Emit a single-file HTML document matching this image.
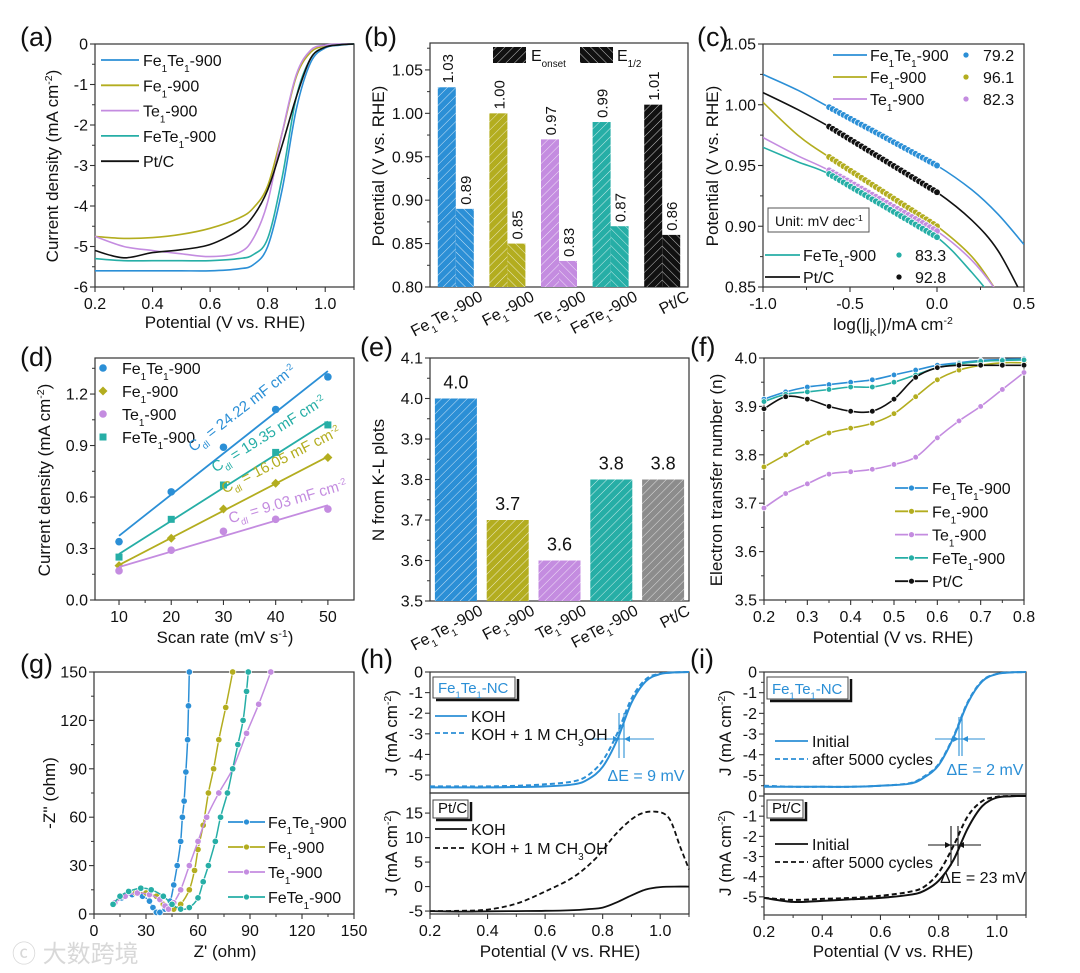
<!DOCTYPE html>
<html><head><meta charset="utf-8"><style>
html,body{margin:0;padding:0;background:#fff}
svg{display:block;font-family:"Liberation Sans","Noto Sans CJK SC",sans-serif}
</style></head><body>
<svg id="fig" width="1080" height="973" viewBox="0 0 1080 973" xmlns="http://www.w3.org/2000/svg">
<defs>
</defs>
</svg>
<script>
// ---------- DATA ----------
// (a) LSV
const aX = [0.2,0.3,0.4,0.5,0.6,0.7,0.75,0.8,0.85,0.9,0.95,1.0,1.05,1.1];
const aFe1Te1 = [-5.6,-5.6,-5.6,-5.6,-5.6,-5.55,-5.45,-5.0,-3.6,-1.6,-0.45,-0.1,-0.03,0];
const aFeTe1 = [-5.3,-5.35,-5.35,-5.35,-5.35,-5.3,-5.2,-4.8,-3.3,-1.3,-0.35,-0.08,-0.02,0];
const aFe1 = [-4.75,-4.8,-4.78,-4.7,-4.55,-4.3,-4.05,-3.5,-2.2,-0.8,-0.2,-0.05,-0.01,0];
const aTe1 = [-4.75,-5.0,-5.1,-5.18,-5.25,-5.15,-4.8,-3.9,-2.2,-0.75,-0.15,-0.03,0,0];
const aPtC = [-5.1,-5.28,-5.15,-5.08,-4.95,-4.6,-4.25,-3.6,-2.5,-1.3,-0.35,-0.08,-0.02,0];
// (b) onset / half-wave
const bCats = ["Fe{1}Te{1}-900","Fe{1}-900","Te{1}-900","FeTe{1}-900","Pt/C"];
const bOnset = [1.03,1.00,0.97,0.99,1.01];
const bHalf = [0.89,0.85,0.83,0.87,0.86];
const bOnsetLbl = ["1.03","1.00","0.97","0.99","1.01"];
const bHalfLbl = ["0.89","0.85","0.83","0.87","0.86"];
// (c) Tafel
const cLineX = [-1.0,-0.8,-0.62,-0.3,0.0,0.2,0.35,0.5];
const cFe1Te1 = [1.025,1.012,0.998,0.974,0.95,0.93,0.91,0.885];
const cPtC = [1.01,0.996,0.982,0.955,0.928,0.905,0.88,0.84];
const cFe1 = [1.002,0.975,0.957,0.929,0.9,0.875,0.845,0.81];
const cTe1 = [0.973,0.958,0.946,0.921,0.896,0.872,0.845,0.81];
const cFeTe1 = [0.965,0.953,0.943,0.917,0.891,0.862,0.835,0.80];
const cFitStart = [-0.62,-0.62,-0.62,-0.62,-0.62];
const cSlopes = ["79.2","96.1","82.3","83.3","92.8"];
// (d) Cdl
const dX = [10,20,30,40,50];
const dFe1Te1 = [0.34,0.63,0.89,1.11,1.30];
const dFeTe1 = [0.25,0.47,0.67,0.86,1.02];
const dFe1 = [0.20,0.36,0.53,0.68,0.83];
const dTe1 = [0.17,0.29,0.40,0.47,0.53];
const dCdl = ["24.22","19.35","16.05","9.03"];
// (e) N
const eVals = [4.0,3.7,3.6,3.8,3.8];
const eLbl = ["4.0","3.7","3.6","3.8","3.8"];
// (f) n
const fX = [0.2,0.25,0.3,0.35,0.4,0.45,0.5,0.55,0.6,0.65,0.7,0.75,0.8];
const fFe1Te1 = [3.915,3.93,3.94,3.945,3.95,3.955,3.965,3.975,3.985,3.99,3.995,3.997,3.998];
const fFeTe1 = [3.91,3.925,3.93,3.935,3.94,3.94,3.95,3.965,3.98,3.988,3.993,3.995,3.996];
const fPtC = [3.895,3.92,3.915,3.9,3.89,3.89,3.915,3.96,3.98,3.985,3.985,3.985,3.985];
const fFe1 = [3.775,3.80,3.825,3.845,3.855,3.865,3.885,3.92,3.955,3.975,3.985,3.99,3.99];
const fTe1 = [3.69,3.72,3.74,3.76,3.765,3.77,3.78,3.795,3.835,3.87,3.9,3.935,3.97];
// (g) Nyquist [Z', Z'']
const gFe1Te1 = [[12,7],[16,10],[22,12],[28,11],[32,8],[34,4],[36,1],[38,1],[41,3],[44,8],[46,18],[48,30],[50,45],[51,60],[52,70],[53,88],[54,108],[54.5,129],[55,150]];
const gFe1 = [[12,7],[17,11],[24,13],[30,13],[36,11],[40,6],[43,3],[46,3],[50,6],[55,15],[58,27],[60,40],[63,55],[66,75],[69,90],[72,108],[76,128],[80,150]];
const gTe1 = [[12,7],[18,11],[25,13],[32,12],[38,9],[41,5],[43,3],[46,7],[50,15],[55,30],[60,45],[65,60],[72,75],[80,90],[88,112],[95,130],[102,150]];
const gFeTe1 = [[11,6],[15,11],[20,14],[27,16],[33,15],[40,11],[45,6],[50,3],[55,4],[60,10],[63,20],[66,30],[70,45],[73,60],[77,75],[80,90],[83,105],[86,120],[88,138],[89,150]];
// (h) methanol tolerance
const hX = [0.2,0.3,0.4,0.5,0.6,0.7,0.75,0.8,0.85,0.9,0.95,1.0,1.05,1.1];
const hKOH = [-5.6,-5.6,-5.6,-5.58,-5.55,-5.45,-5.2,-4.6,-3.3,-1.5,-0.45,-0.1,-0.02,0];
const hMeOH = [-5.55,-5.55,-5.55,-5.52,-5.45,-5.3,-5.0,-4.3,-3.0,-1.3,-0.35,-0.08,-0.02,0];
const hPtKOH = [-5.0,-5.1,-5.05,-5.0,-4.95,-4.8,-4.6,-4.3,-3.2,-1.8,-0.6,-0.1,0,0];
const hX2 = [0.2,0.3,0.4,0.5,0.6,0.7,0.78,0.85,0.92,0.98,1.03,1.07,1.1];
const hPtMeOH = [-5.0,-4.95,-4.7,-3.5,-1.0,2.0,6.0,11.0,14.5,15.3,14.0,8.0,3.5];
// (i) stability
const iInit = [-5.55,-5.55,-5.55,-5.55,-5.5,-5.4,-5.1,-4.5,-3.2,-1.5,-0.45,-0.1,-0.02,0];
const iAfter = [-5.5,-5.55,-5.55,-5.55,-5.5,-5.38,-5.05,-4.45,-3.15,-1.45,-0.42,-0.09,-0.02,0];
const iPtInit = [-5.05,-5.25,-5.2,-5.12,-5.05,-4.9,-4.7,-4.2,-3.2,-1.6,-0.5,-0.08,-0.01,0];
const iPtAfter = [-5.05,-5.15,-5.1,-5.05,-4.95,-4.75,-4.5,-3.8,-2.5,-1.0,-0.25,-0.04,0,0];
</script>
<script>
const NS = "http://www.w3.org/2000/svg";
const svg = document.getElementById('fig');
const C = {blue:"#2b8fd6", olive:"#b3ad1f", purple:"#c48ce0", teal:"#26aea6", black:"#111", grey:"#8c8c8c"};
function mk(tag, attrs, parent){
  const e = document.createElementNS(NS, tag);
  for (const k in attrs) e.setAttribute(k, attrs[k]);
  (parent||svg).appendChild(e);
  return e;
}
function rich(s){
  return s.replace(/\{([^}]*)\}/g,'<tspan font-size="0.62em" baseline-shift="sub">$1</tspan>')
          .replace(/\[([^\]]*)\]/g,'<tspan font-size="0.62em" baseline-shift="super">$1</tspan>');
}
function txt(x,y,s,size,name,opts){
  opts = opts||{};
  const t = mk('text',{x:x,y:y,'font-size':size,fill:opts.fill||'#111','text-anchor':opts.anchor||'start'});
  if (opts.rot!==undefined) t.setAttribute('transform','rotate('+opts.rot+' '+x+' '+y+')');
  t.innerHTML = rich(s);
  
  
  return t;
}
function lin(d0,d1,r0,r1){ return v => r0 + (v-d0)/(d1-d0)*(r1-r0); }
function smooth(pts){
  let d = 'M'+pts[0][0].toFixed(1)+','+pts[0][1].toFixed(1);
  for (let i=0;i<pts.length-1;i++){
    const p0=pts[Math.max(i-1,0)], p1=pts[i], p2=pts[i+1], p3=pts[Math.min(i+2,pts.length-1)];
    const c1=[p1[0]+(p2[0]-p0[0])/6, p1[1]+(p2[1]-p0[1])/6];
    const c2=[p2[0]-(p3[0]-p1[0])/6, p2[1]-(p3[1]-p1[1])/6];
    d += 'C'+c1[0].toFixed(1)+','+c1[1].toFixed(1)+' '+c2[0].toFixed(1)+','+c2[1].toFixed(1)+' '+p2[0].toFixed(1)+','+p2[1].toFixed(1);
  }
  return d;
}
function curve(g, sx, sy, xs, ys, color, name, dash, w){
  const pts = xs.map((x,i)=>[sx(x), sy(ys[i])]);
  const p = mk('path',{d:smooth(pts),fill:'none',stroke:color,'stroke-width':w||1.6,'stroke-dasharray':dash||'none'},g);
  
  
  return p;
}
function axes(cfg){
  const g = mk('g',{});
  
  
  const sx = lin(cfg.xd[0],cfg.xd[1],cfg.px[0],cfg.px[1]);
  const sy = lin(cfg.yd[0],cfg.yd[1],cfg.py[1],cfg.py[0]);
  const fr = mk('rect',{x:cfg.px[0],y:cfg.py[0],width:cfg.px[1]-cfg.px[0],height:cfg.py[1]-cfg.py[0],fill:'none',stroke:'#333','stroke-width':1.2},g);
  
  
  if (cfg.xt){
    cfg.xt.forEach((v,i)=>{
      const x=sx(v);
      const tk = mk('line',{x1:x,x2:x,y1:cfg.py[1],y2:cfg.py[1]+5,stroke:'#333','stroke-width':1.1},g);
      
      
      if (cfg.xl) txt(x, cfg.py[1]+22, cfg.xl[i], 16, 'x-tick-label', {anchor:'middle'});
    });
    if (cfg.xm) cfg.xm.forEach(v=>{ const x=sx(v);
      const tm = mk('line',{x1:x,x2:x,y1:cfg.py[1],y2:cfg.py[1]+3,stroke:'#333','stroke-width':1},g);
      
      
    });
  }
  cfg.yt.forEach((v,i)=>{
    const y=sy(v);
    const tk = mk('line',{x1:cfg.px[0]-5,x2:cfg.px[0],y1:y,y2:y,stroke:'#333','stroke-width':1.1},g);
    
    
    txt(cfg.px[0]-7, y+5.5, cfg.yl[i], 16, 'y-tick-label', {anchor:'end'});
  });
  if (cfg.ym) cfg.ym.forEach(v=>{ const y=sy(v);
    const tm = mk('line',{x1:cfg.px[0]-3,x2:cfg.px[0],y1:y,y2:y,stroke:'#333','stroke-width':1},g);
    
    
  });
  return {g,sx,sy};
}
function legLine(g,x1,x2,y,color,name,dash,marker){
  const l = mk('line',{x1:x1,x2:x2,y1:y,y2:y,stroke:color,'stroke-width':1.8,'stroke-dasharray':dash||'none'},g);
  
  
  if (marker){
    const m = mk('circle',{cx:(x1+x2)/2,cy:y,r:3,fill:color,stroke:'#fff','stroke-width':0.8},g);
    
    
  }
}
function dot(g,x,y,color,name,r){
  const m = mk('circle',{cx:x,cy:y,r:r||3.2,fill:color,stroke:'#fff','stroke-width':0.7},g);
  
  
  return m;
}

const defs = svg.querySelector('defs');
function pattern(id,color,dir){
  const p = mk('pattern',{id:id,patternUnits:'userSpaceOnUse',width:6,height:6,patternTransform:'rotate('+(dir>0?45:-45)+')'},defs);
  mk('rect',{x:0,y:0,width:6,height:6,fill:color},p);
  mk('line',{x1:0,y1:0,x2:0,y2:6,stroke:'#fff','stroke-width':1,'stroke-opacity':0.75},p);
}
const barCols = [C.blue,C.olive,C.purple,C.teal,C.black];
barCols.forEach((c,i)=>{ pattern('hA'+i,c,1); pattern('hB'+i,c,-1); });
pattern('hE4',C.grey,1);

[["(a)",20,46],["(b)",364,46],["(c)",697,46],["(d)",20,366],["(e)",360,356],["(f)",690,356],["(g)",20,673],["(h)",360,668],["(i)",690,668]].forEach(p=>txt(p[1],p[2],p[0],27,'panel-label'));

// ---------- (a) ----------
(function(){
  const A = axes({name:'panel-a',px:[95,354],py:[44,287],xd:[0.2,1.1],yd:[-6,0],
    xt:[0.2,0.4,0.6,0.8,1.0],xl:["0.2","0.4","0.6","0.8","1.0"],xm:[0.3,0.5,0.7,0.9,1.1],
    yt:[0,-1,-2,-3,-4,-5,-6],yl:["0","-1","-2","-3","-4","-5","-6"],ym:[-0.5,-1.5,-2.5,-3.5,-4.5,-5.5]});
  const ser=[[aFe1Te1,C.blue,'Fe{1}Te{1}-900'],[aFe1,C.olive,'Fe{1}-900'],[aTe1,C.purple,'Te{1}-900'],[aFeTe1,C.teal,'FeTe{1}-900'],[aPtC,C.black,'Pt/C']];
  ser.forEach((s,i)=>{ curve(A.g,A.sx,A.sy,aX,s[0],s[1],'lsv-curve-'+i);
    legLine(A.g,101,139,60+i*25.3,s[1],'legend-line');
    txt(143,66+i*25.3,s[2],16,'legend-entry'); });
  txt(58,166,'Current density (mA cm[-2])',17,'y-axis-title',{anchor:'middle',rot:-90});
  txt(225,328,'Potential (V vs. RHE)',17,'x-axis-title',{anchor:'middle'});
})();

// ---------- (b) ----------
(function(){
  const B = axes({name:'panel-b',px:[430,688],py:[43,287],xd:[0,5],yd:[0.8,1.081],
    yt:[0.8,0.85,0.9,0.95,1.0,1.05],yl:["0.80","0.85","0.90","0.95","1.00","1.05"],ym:[0.825,0.875,0.925,0.975,1.025,1.075]});
  bCats.forEach((c,i)=>{
    const cx = B.sx(i+0.5);
    const r1 = mk('rect',{x:cx-18,y:B.sy(bOnset[i]),width:18,height:B.sy(0.8)-B.sy(bOnset[i]),fill:'url(#hA'+i+')'},B.g);
    
    
    const r2 = mk('rect',{x:cx,y:B.sy(bHalf[i]),width:18,height:B.sy(0.8)-B.sy(bHalf[i]),fill:'url(#hB'+i+')'},B.g);
    
    
    txt(cx-3,B.sy(bOnset[i])-4,bOnsetLbl[i],15,'bar-value',{rot:-90});
    txt(cx+15,B.sy(bHalf[i])-4,bHalfLbl[i],15,'bar-value',{rot:-90});
    txt(cx+28,300,c,16,'category-label',{anchor:'end',rot:-28});
  });
  const l1 = mk('rect',{x:493,y:47,width:33,height:16,fill:'url(#hA4)'},B.g);
  
  
  txt(531,61,'E{onset}',16,'legend-entry');
  const l2 = mk('rect',{x:580,y:47,width:33,height:16,fill:'url(#hB4)'},B.g);
  
  
  txt(617,61,'E{1/2}',16,'legend-entry');
  txt(384,166,'Potential (V vs. RHE)',17,'y-axis-title',{anchor:'middle',rot:-90});
})();

// ---------- (c) ----------
(function(){
  const G = axes({name:'panel-c',px:[763,1024],py:[44,287],xd:[-1,0.5],yd:[0.85,1.05],
    xt:[-1,-0.5,0,0.5],xl:["-1.0","-0.5","0.0","0.5"],xm:[-0.75,-0.25,0.25],
    yt:[0.85,0.9,0.95,1.0,1.05],yl:["0.85","0.90","0.95","1.00","1.05"],ym:[0.875,0.925,0.975,1.025]});
  const cp = mk('clipPath',{id:'clipc'},defs);
  mk('rect',{x:763,y:44,width:261,height:243},cp);
  const inner = mk('g',{'clip-path':'url(#clipc)'},G.g);
  const ser=[[cFe1Te1,C.blue],[cFe1,C.olive],[cTe1,C.purple],[cFeTe1,C.teal],[cPtC,C.black]];
  ser.forEach((s,i)=>{
    curve(inner,G.sx,G.sy,cLineX,s[0],s[1],'tafel-curve-'+i);
    const y0 = s[0][2], y1 = s[0][4];
    for (let k=0;k<=30;k++){ const x = cFitStart[i] + (0-cFitStart[i])*k/30;
      dot(inner,G.sx(x),G.sy(y0+(y1-y0)*k/30),s[1],'tafel-fit-point',3.3); }
  });
  const top=[['Fe{1}Te{1}-900',C.blue,0],['Fe{1}-900',C.olive,1],['Te{1}-900',C.purple,2]];
  top.forEach((t,i)=>{ legLine(G.g,833,867,55+i*22,t[1],'legend-line');
    txt(870,61+i*22,t[0],16,'legend-entry'); dot(G.g,966,55+i*22,t[1],'legend-marker',3);
    txt(983,61+i*22,cSlopes[t[2]],16,'legend-value'); });
  const bot=[['FeTe{1}-900',C.teal,3],['Pt/C',C.black,4]];
  bot.forEach((t,i)=>{ legLine(G.g,765,800,255+i*22,t[1],'legend-line');
    txt(803,261+i*22,t[0],16,'legend-entry'); dot(G.g,899,255+i*22,t[1],'legend-marker',3);
    txt(915,261+i*22,cSlopes[t[2]],16,'legend-value'); });
  const ub = mk('rect',{x:768,y:208,width:101,height:24,fill:'#fff',stroke:'#555','stroke-width':1},G.g);
  
  
  txt(775,226,'Unit: mV dec[-1]',14,'unit-label');
  txt(718,166,'Potential (V vs. RHE)',17,'y-axis-title',{anchor:'middle',rot:-90});
  txt(893,330,'log(|j{K}|)/mA cm[-2]',17,'x-axis-title',{anchor:'middle'});
})();

// ---------- (d) ----------
(function(){
  const D = axes({name:'panel-d',px:[95,354],py:[358,600],xd:[5.4,55],yd:[0,1.41],
    xt:[10,20,30,40,50],xl:["10","20","30","40","50"],xm:[15,25,35,45],
    yt:[0,0.3,0.6,0.9,1.2],yl:["0.0","0.3","0.6","0.9","1.2"],ym:[0.15,0.45,0.75,1.05,1.35]});
  const ser=[[dFe1Te1,C.blue,'circle','Fe{1}Te{1}-900'],[dFe1,C.olive,'diamond','Fe{1}-900'],[dTe1,C.purple,'circle','Te{1}-900'],[dFeTe1,C.teal,'square','FeTe{1}-900']];
  function marker(x,y,s,c){
    let m;
    if (s==='circle') m = mk('circle',{cx:x,cy:y,r:3.8,fill:c},D.g);
    else if (s==='square') m = mk('rect',{x:x-3.5,y:y-3.5,width:7,height:7,fill:c},D.g);
    else m = mk('path',{d:'M'+x+','+(y-4.5)+'L'+(x+4.5)+','+y+'L'+x+','+(y+4.5)+'L'+(x-4.5)+','+y+'Z',fill:c},D.g);
    
    
  }
  ser.forEach((s,i)=>{
    const n=dX.length; let mx=0,my=0; dX.forEach((x,k)=>{mx+=x;my+=s[0][k];}); mx/=n; my/=n;
    let num=0,den=0; dX.forEach((x,k)=>{num+=(x-mx)*(s[0][k]-my); den+=(x-mx)*(x-mx);});
    const sl=num/den, ic=my-sl*mx;
    const fl = mk('line',{x1:D.sx(10),y1:D.sy(ic+sl*10),x2:D.sx(50),y2:D.sy(ic+sl*50),stroke:s[1],'stroke-width':1.8},D.g);
    
    
    dX.forEach((x,k)=>marker(D.sx(x),D.sy(s[0][k]),s[2],s[1]));
    marker(103,368+i*23,s[2],s[1]);
    txt(122,374+i*23,s[3],16,'legend-entry');
  });
  const ann=[[245,412,-38,C.blue,0],[271,438,-32,C.teal,1],[283,464,-27,C.olive,2],[289,506,-16.5,C.purple,3]];
  ann.forEach(a=>txt(a[0],a[1],'C{dl} = '+dCdl[a[4]]+' mF cm[-2]',15,'cdl-annotation',{anchor:'middle',rot:a[2],fill:a[3]}));
  txt(50,480,'Current density (mA cm[-2])',17,'y-axis-title',{anchor:'middle',rot:-90});
  txt(225,643,'Scan rate (mV s[-1])',17,'x-axis-title',{anchor:'middle'});
})();

// ---------- (e) ----------
(function(){
  const E = axes({name:'panel-e',px:[430,689],py:[358,601],xd:[0,5],yd:[3.5,4.1],
    yt:[3.5,3.6,3.7,3.8,3.9,4.0,4.1],yl:["3.5","3.6","3.7","3.8","3.9","4.0","4.1"],ym:[3.55,3.65,3.75,3.85,3.95,4.05]});
  eVals.forEach((v,i)=>{
    const cx=E.sx(i+0.5);
    const r = mk('rect',{x:cx-21,y:E.sy(v),width:42,height:E.sy(3.5)-E.sy(v),fill:i===4?'url(#hE4)':'url(#hA'+i+')'},E.g);
    
    
    txt(cx,E.sy(v)-10,eLbl[i],18,'bar-value',{anchor:'middle'});
    txt(cx+28,614,bCats[i],16,'category-label',{anchor:'end',rot:-28});
  });
  txt(384,480,'N from K-L plots',17,'y-axis-title',{anchor:'middle',rot:-90});
})();

// ---------- (f) ----------
(function(){
  const F = axes({name:'panel-f',px:[764,1024],py:[358,600],xd:[0.2,0.8],yd:[3.5,4.0],
    xt:[0.2,0.3,0.4,0.5,0.6,0.7,0.8],xl:["0.2","0.3","0.4","0.5","0.6","0.7","0.8"],xm:[0.25,0.35,0.45,0.55,0.65,0.75],
    yt:[3.5,3.6,3.7,3.8,3.9,4.0],yl:["3.5","3.6","3.7","3.8","3.9","4.0"],ym:[3.55,3.65,3.75,3.85,3.95]});
  const ser=[[fFe1Te1,C.blue,'Fe{1}Te{1}-900'],[fFe1,C.olive,'Fe{1}-900'],[fTe1,C.purple,'Te{1}-900'],[fFeTe1,C.teal,'FeTe{1}-900'],[fPtC,C.black,'Pt/C']];
  ser.forEach((s,i)=>{
    curve(F.g,F.sx,F.sy,fX,s[0],s[1],'n-curve-'+i);
    fX.forEach((x,k)=>dot(F.g,F.sx(x),F.sy(s[0][k]),s[1],'n-point',2.8));
    legLine(F.g,895,928,488+i*23.3,s[1],'legend-line',null,true);
    txt(932,494+i*23.3,s[2],16,'legend-entry');
  });
  txt(722,480,'Electron transfer number (n)',17,'y-axis-title',{anchor:'middle',rot:-90});
  txt(893,643,'Potential (V vs. RHE)',17,'x-axis-title',{anchor:'middle'});
})();

// ---------- (g) ----------
(function(){
  const Gp = axes({name:'panel-g',px:[94,354],py:[672,914],xd:[0,150],yd:[0,150],
    xt:[0,30,60,90,120,150],xl:["0","30","60","90","120","150"],xm:[15,45,75,105,135],
    yt:[0,30,60,90,120,150],yl:["0","30","60","90","120","150"],ym:[15,45,75,105,135]});
  const ser=[[gFe1Te1,C.blue,'Fe{1}Te{1}-900'],[gFe1,C.olive,'Fe{1}-900'],[gTe1,C.purple,'Te{1}-900'],[gFeTe1,C.teal,'FeTe{1}-900']];
  ser.forEach((s,i)=>{
    const pts=s[0].map(p=>[Gp.sx(p[0]),Gp.sy(p[1])]);
    const p = mk('path',{d:smooth(pts),fill:'none',stroke:s[1],'stroke-width':1.5},Gp.g);
    
    
    s[0].forEach(q=>dot(Gp.g,Gp.sx(q[0]),Gp.sy(q[1]),s[1],'nyquist-point',3.2));
  });
  ser.forEach((s,i)=>{ legLine(Gp.g,228,265,822+i*25,s[1],'legend-line',null,true);
    txt(268,828+i*25,s[2],16,'legend-entry'); });
  txt(55,793,'-Z\'\' (ohm)',17,'y-axis-title',{anchor:'middle',rot:-90});
  txt(225,957,'Z\' (ohm)',17,'x-axis-title',{anchor:'middle'});
  txt(12,962,'ⓒ 大数跨境',24,'watermark',{fill:'#d8d8d8'});
})();

// ---------- (h) ----------
function crossMark(g,xa,xb,y,yt,yb,hx1,hx2,color){
  [xa,xb].forEach(x=>{ const v=mk('line',{x1:x,x2:x,y1:yt,y2:yb,stroke:color,'stroke-width':1.1},g);
    
     });
  const h=mk('line',{x1:hx1,x2:hx2,y1:y,y2:y,stroke:color,'stroke-width':1.1},g);
  
  
  const a1=mk('path',{d:'M'+xa+','+y+'l-6,-3v6z',fill:color},g);
  
  
  const a2=mk('path',{d:'M'+xb+','+y+'l6,-3v6z',fill:color},g);
  
  
}
function labelBox(g,x,y,w,h,s,color){
  const sh=mk('path',{d:'M'+(x+3)+','+(y+h+2)+'h'+w+'v-'+h,fill:'none',stroke:'#111','stroke-width':2.5},g);
  
  
  const b=mk('rect',{x:x,y:y,width:w,height:h,fill:'#fff',stroke:'#444','stroke-width':1},g);
  
  
  txt(x+5,y+h-5,s,15,'sample-label',{fill:color});
}
(function(){
  const T = axes({name:'panel-h-top',px:[430,689],py:[672,793],xd:[0.2,1.1],yd:[-5.87,0],
    yt:[0,-1,-2,-3,-4,-5],yl:["0","-1","-2","-3","-4","-5"]});
  curve(T.g,T.sx,T.sy,hX,hKOH,C.blue,'koh-curve',null,2);
  curve(T.g,T.sx,T.sy,hX,hMeOH,C.blue,'methanol-curve','5,3',2);
  const B = axes({name:'panel-h-bottom',px:[430,689],py:[793,914],xd:[0.2,1.1],yd:[-5.6,19.1],
    xt:[0.2,0.4,0.6,0.8,1.0],xl:["0.2","0.4","0.6","0.8","1.0"],xm:[0.3,0.5,0.7,0.9,1.1],
    yt:[-5,0,5,10,15],yl:["-5","0","5","10","15"]});
  curve(B.g,B.sx,B.sy,hX,hPtKOH,C.black,'pt-koh-curve',null,1.8);
  curve(B.g,B.sx,B.sy,hX2,hPtMeOH,C.black,'pt-methanol-curve','5,3',1.8);
  labelBox(T.g,433,677,82,21,'Fe{1}Te{1}-NC',C.blue);
  legLine(T.g,435,467,716,C.blue,'legend-line');
  txt(471,722,'KOH',16,'legend-entry');
  legLine(T.g,435,467,733,C.blue,'legend-line','5,3');
  txt(471,740,'KOH + 1 M CH{3}OH',16,'legend-entry');
  crossMark(T.g,619,624,739,713,758,588,654,C.blue);
  txt(646,781,'ΔE = 9 mV',16,'delta-e-label',{anchor:'middle',fill:C.blue});
  labelBox(B.g,433,800,35,18,'Pt/C','#111');
  legLine(B.g,435,467,829,C.black,'legend-line');
  txt(471,835,'KOH',16,'legend-entry');
  legLine(B.g,435,467,848,C.black,'legend-line','5,3');
  txt(471,854,'KOH + 1 M CH{3}OH',16,'legend-entry');
  txt(397,733,'J (mA cm[-2])',17,'y-axis-title',{anchor:'middle',rot:-90});
  txt(397,853,'J (mA cm[-2])',17,'y-axis-title',{anchor:'middle',rot:-90});
  txt(560,957,'Potential (V vs. RHE)',17,'x-axis-title',{anchor:'middle'});
})();

// ---------- (i) ----------
(function(){
  const T = axes({name:'panel-i-top',px:[764,1026],py:[672,794],xd:[0.2,1.1],yd:[-5.9,0],
    yt:[0,-1,-2,-3,-4,-5],yl:["0","-1","-2","-3","-4","-5"],ym:[-0.5,-1.5,-2.5,-3.5,-4.5,-5.5]});
  curve(T.g,T.sx,T.sy,hX,iInit,C.blue,'initial-curve',null,2);
  curve(T.g,T.sx,T.sy,hX,iAfter,C.blue,'after-cycles-curve','5,3',2);
  const B = axes({name:'panel-i-bottom',px:[764,1026],py:[794,915],xd:[0.2,1.1],yd:[-5.9,0.1],
    xt:[0.2,0.4,0.6,0.8,1.0],xl:["0.2","0.4","0.6","0.8","1.0"],xm:[0.3,0.5,0.7,0.9,1.1],
    yt:[0,-1,-2,-3,-4,-5],yl:["0","-1","-2","-3","-4","-5"],ym:[-0.5,-1.5,-2.5,-3.5,-4.5,-5.5]});
  curve(B.g,B.sx,B.sy,hX,iPtInit,C.black,'pt-initial-curve',null,2);
  curve(B.g,B.sx,B.sy,hX,iPtAfter,C.black,'pt-after-cycles-curve','5,3',2);
  labelBox(T.g,767,677,81,22,'Fe{1}Te{1}-NC',C.blue);
  legLine(T.g,775,808,741,C.blue,'legend-line');
  txt(812,747,'Initial',16,'legend-entry');
  legLine(T.g,775,808,759,C.blue,'legend-line','5,3');
  txt(812,765,'after 5000 cycles',16,'legend-entry');
  crossMark(T.g,959,962,739,717,756,935,985,C.blue);
  txt(985,775,'ΔE = 2 mV',16,'delta-e-label',{anchor:'middle',fill:C.blue});
  labelBox(B.g,767,800,36,18,'Pt/C','#111');
  legLine(B.g,775,808,844,C.black,'legend-line');
  txt(812,850,'Initial',16,'legend-entry');
  legLine(B.g,775,808,862,C.black,'legend-line','5,3');
  txt(812,868,'after 5000 cycles',16,'legend-entry');
  crossMark(B.g,951,958,845,826,866,928,981,C.black);
  txt(983,883,'ΔE = 23 mV',16,'delta-e-label',{anchor:'middle'});
  txt(731,733,'J (mA cm[-2])',17,'y-axis-title',{anchor:'middle',rot:-90});
  txt(731,853,'J (mA cm[-2])',17,'y-axis-title',{anchor:'middle',rot:-90});
  txt(893,957,'Potential (V vs. RHE)',17,'x-axis-title',{anchor:'middle'});
})();
</script>
</body></html>
